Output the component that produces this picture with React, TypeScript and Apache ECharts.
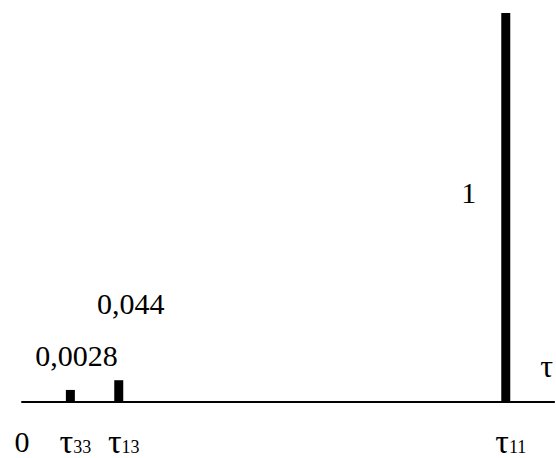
import React, { useEffect, useRef } from "react";
import * as echarts from "echarts";

// Positions of the relaxation times on the (schematic) τ axis
const tauNames = ["33", "13", "11"];
const tauPositions = [1, 2, 10];
// Drawn (schematic) heights of the lines, relative to the tallest
const barHeights = [0.031, 0.056, 1];
// Printed values next to each line
const valueLabels = ["0,0028", "0,044", "1"];
// Tick labels on the axis
const tickValues = [0, 1, 2, 10];
const tickLabels = ["0", "τ33", "τ13", "τ11"];

const FONT = "Liberation Serif";

export default function App() {
  const ref = useRef<HTMLDivElement>(null);
  useEffect(() => {
    if (!ref.current) return;
    const chart = echarts.init(ref.current, null, { renderer: "svg" });
    const labelStyles = [
      { position: "top", distance: 5, offset: [6, -14] },
      { position: "top", distance: 5, offset: [12, -57] },
      { position: "left", distance: 5, offset: [-20, -15] },
    ];
    chart.setOption({
      animation: false,
      grid: { left: 22, top: 13, width: 538, height: 391, containLabel: false },
      xAxis: {
        type: "value",
        min: 0,
        max: 11,
        name: "τ",
        nameLocation: "end",
        nameGap: -14,
        nameTextStyle: {
          fontFamily: FONT,
          fontSize: 32,
          color: "#000",
          align: "left",
          verticalAlign: "bottom",
          padding: [0, 0, 20, 0],
        },
        axisLine: { show: true, lineStyle: { color: "#000", width: 2 } },
        axisTick: { show: false },
        splitLine: { show: false },
        axisLabel: {
          customValues: tickValues,
          margin: 24,
          fontFamily: FONT,
          color: "#000",
          fontSize: 30,
          formatter: (v: number) => {
            const i = tickValues.indexOf(v);
            const s = i >= 0 ? tickLabels[i] : "";
            if (s.startsWith("τ")) {
              return "{t|τ}{s|" + s.slice(1) + "}";
            }
            return "{z|" + s + "}";
          },
          rich: {
            z: { fontFamily: FONT, fontSize: 30, color: "#000", lineHeight: 30 },
            t: {
              fontFamily: FONT,
              fontSize: 34,
              color: "#000",
              lineHeight: 30,
              padding: [0, 0, 0, 10],
            },
            s: {
              fontFamily: FONT,
              fontSize: 18,
              color: "#000",
              lineHeight: 18,
              verticalAlign: "bottom",
            },
          },
        },
      },
      yAxis: {
        type: "value",
        min: 0,
        max: 1,
        show: false,
      },
      series: [
        {
          type: "bar",
          barWidth: 9,
          itemStyle: { color: "#000" },
          data: tauPositions.map((x, i) => ({
            value: [x, barHeights[i]],
            label: {
              show: true,
              formatter: valueLabels[i],
              fontFamily: FONT,
              fontSize: 30,
              color: "#000",
              ...labelStyles[i],
            },
          })),
        },
      ],
    });
    return () => chart.dispose();
  }, []);
  return (
    <div
      ref={ref}
      style={{ position: "absolute", left: 0, top: 0, width: 556, height: 458 }}
    />
  );
}
